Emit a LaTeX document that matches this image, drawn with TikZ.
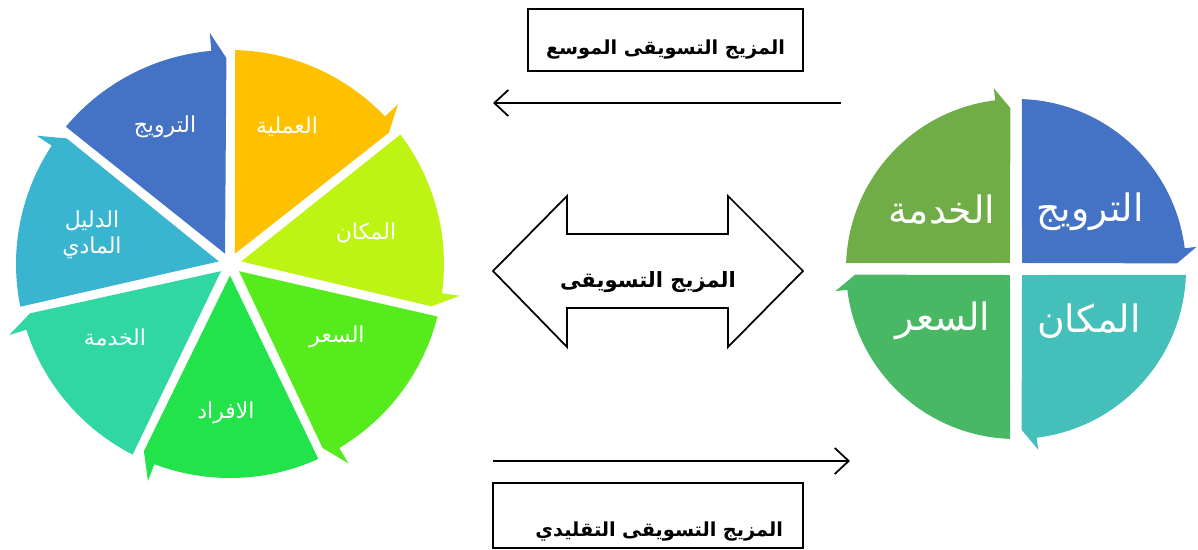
\documentclass[tikz,border=0pt]{standalone}
\usepackage{fontspec}
\usepackage{tikz}
\usetikzlibrary{arrows.meta,calc}
\newfontfamily\arabicfont[Script=Arabic]{DejaVu Sans}
\TeXXeTstate=1

\definecolor{segblue}{HTML}{4472C4}
\definecolor{segorange}{HTML}{FFC000}
\definecolor{seglime}{HTML}{BEF414}
\definecolor{seggreen}{HTML}{56EB1D}
\definecolor{segbright}{HTML}{23E34B}
\definecolor{segteal}{HTML}{31D7A3}
\definecolor{segcyan}{HTML}{3AB5CF}
\definecolor{quadblue}{HTML}{4472C4}
\definecolor{quadteal}{HTML}{45BFBA}
\definecolor{quadgreen}{HTML}{49B865}
\definecolor{quadolive}{HTML}{70AD47}

\begin{document}
\begin{tikzpicture}[x=0.02cm,y=0.02cm,
    seglabel/.style={text=white,font=\arabicfont\fontsize{12.5}{15}\selectfont,align=center},
    quadlabel/.style={text=white,font=\arabicfont\fontsize{21.5}{24}\selectfont},
    mixtext/.style={font=\arabicfont\bfseries\fontsize{11}{13}\selectfont},
    mixbox/.style={draw=black,line width=1pt,inner ysep=0pt},
    mixarrow/.style={draw=black,line width=1pt,-{Straight Barb[length=2.8mm,width=5.2mm]}}]
  \useasboundingbox (0,0) rectangle (1198,549);
  \coordinate (L) at (230,285);
  \coordinate (R) at (1016,280);

  % left cycle, seven segments
  \foreach \b/\col in {90/segblue,38.57/segorange,-12.86/seglime,-64.29/seggreen,-115.71/segbright,-167.14/segteal,141.43/segcyan}
    \fill[\col] ($(L)+(\b+25.71:11.5)$) -- ($(L)+(\b+50.09:214)$)
      arc[start angle=\b+50.09,end angle=\b+5,radius=4.28cm]
      -- ($(L)+(\b+5:232)$) -- ($(L)+(\b+1:206)$) -- cycle;
  \node[seglabel] (promo) at (165,422) {\beginR الترويج\endR};
  \node[seglabel] (process) at (287,422) {\beginR العملية\endR};
  \node[seglabel] (place) at (366,316) {\beginR المكان\endR};
  \node[seglabel] (price) at (337,212) {\beginR السعر\endR};
  \node[seglabel] (people) at (226,136) {\beginR الافراد\endR};
  \node[seglabel] (service) at (115,212) {\beginR الخدمة\endR};
  \node[seglabel] (evidence) at (92,314) {\beginR الدليل\endR\\\beginR المادي\endR};

  % right cycle, four quadrants
  \foreach \b/\col in {0/quadblue,-90/quadteal,180/quadgreen,90/quadolive}
    \fill[\col] ($(R)+(\b+45:8.5)$) -- ($(R)+(\b+88:170)$)
      arc[start angle=\b+88,end angle=\b+7,radius=3.4cm]
      -- ($(R)+(\b+7:182)$) -- ($(R)+(\b+2:161)$) -- cycle;
  \node[quadlabel] (qpromo) at (1090,337) {\beginR الترويج\endR};
  \node[quadlabel] (qservice) at (942,339) {\beginR الخدمة\endR};
  \node[quadlabel] (qplace) at (1089,228) {\beginR المكان\endR};
  \node[quadlabel] (qprice) at (943,228) {\beginR السعر\endR};

  % middle
  \node[mixbox,mixtext,minimum width=5.5cm,text height=0.92cm,text depth=0.32cm] (wide) at (665.5,509) {\beginR المزيج التسويقى الموسع\endR};
  \coordinate (wideS) at (841,446);
  \coordinate (wideE) at (493,446);
  \draw[mixarrow] (wideS) -- (wideE);

  \draw[line width=1pt,fill=white] (493,278) -- (567,353) -- (567,315) -- (728,315) -- (728,353) -- (803,278)
    -- (728,202) -- (728,241) -- (567,241) -- (567,202) -- cycle;
  \node[mixtext,font=\arabicfont\bfseries\fontsize{12}{14}\selectfont,anchor=base] (mix) at (648,262) {\beginR المزيج التسويقى\endR};

  \coordinate (classicS) at (493,88);
  \coordinate (classicE) at (850,88);
  \draw[mixarrow] (classicS) -- (classicE);
  \node[mixbox,mixtext,text width=5.4cm,align=right,inner xsep=0.4cm,text height=1.08cm,text depth=0.22cm] (classic) at (648,33.5) {\beginR المزيج التسويقى التقليدي\endR};
\end{tikzpicture}
\end{document}
